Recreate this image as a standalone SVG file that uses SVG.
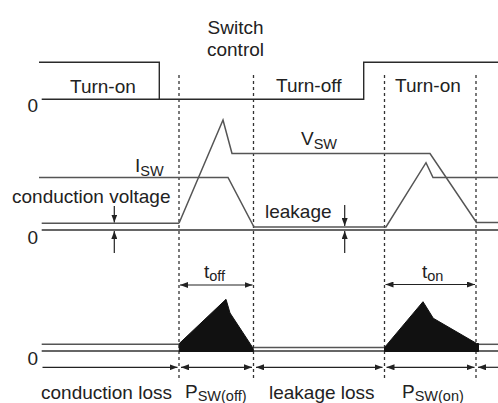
<svg xmlns="http://www.w3.org/2000/svg" width="498" height="403" viewBox="0 0 498 403">
<defs>
<style>
text{font-family:"Liberation Sans",Arial,Helvetica,sans-serif;font-size:19px;fill:#222}
.sub{font-size:14.5px}
.sw{fill:none;stroke:#2a2a2a;stroke-width:1.4}
.wave{fill:none;stroke:#555;stroke-width:1.5}
.base{fill:none;stroke:#333;stroke-width:1.4}
.dot{fill:none;stroke:#333;stroke-width:1.3;stroke-dasharray:3 3}
.arr{fill:none;stroke:#222;stroke-width:1.2}
.pw{fill:#111;stroke:#111;stroke-width:1}
</style>
<marker id="ah" viewBox="0 0 8 6" refX="8" refY="3" markerWidth="8" markerHeight="6" markerUnits="userSpaceOnUse" orient="auto-start-reverse">
<path d="M0,0 L8,3 L0,6 z" fill="#222"/>
</marker>
</defs>
<rect width="498" height="403" fill="#fff"/>

<g id="guides">
<line class="dot" x1="179" y1="75" x2="179" y2="378"/>
<line class="dot" x1="253.5" y1="75" x2="253.5" y2="378"/>
<line class="dot" x1="384.5" y1="75" x2="384.5" y2="378"/>
<line class="dot" x1="476" y1="75" x2="476" y2="378"/>
</g>

<g id="switch-control">
<path class="sw" d="M39,62.3 H159.3 V99.3"/>
<path class="sw" d="M41.7,99.3 H363.7 V62.3 H498"/>
<text x="235.5" y="33.5" text-anchor="middle">Switch</text>
<text x="235.5" y="55.5" text-anchor="middle">control</text>
<text x="70" y="92.5">Turn-on</text>
<text x="276" y="92">Turn-off</text>
<text x="395" y="92">Turn-on</text>
<text x="27.5" y="111.5">0</text>
</g>

<g id="waveforms">
<line class="base" x1="41.7" y1="230" x2="498" y2="230"/>
<path class="wave" d="M41.7,223.3 H179"/>
<path class="wave" d="M39,177.5 H228 L254,227 H386 L426,162.7 L433,177.5 H498"/>
<path class="wave" d="M179,223.3 L223,120 L232,153.5 H430 L476.5,222.5 H498"/>
<text x="27.5" y="243.5">0</text>
<text x="135" y="172">I<tspan class="sub" dy="3.5">SW</tspan></text>
<text x="301" y="145">V<tspan class="sub" dy="4">SW</tspan></text>
<text x="12" y="202.5">conduction voltage</text>
<text x="265" y="217.5">leakage</text>
</g>

<g id="connectors">
<line class="arr" x1="114.3" y1="206" x2="114.3" y2="222.5" marker-end="url(#ah)"/>
<line class="arr" x1="114.3" y1="253" x2="114.3" y2="231" marker-end="url(#ah)"/>
<line class="arr" x1="344.7" y1="205" x2="344.7" y2="226" marker-end="url(#ah)"/>
<line class="arr" x1="344.7" y1="253" x2="344.7" y2="231" marker-end="url(#ah)"/>
<line class="arr" x1="180" y1="285" x2="252.5" y2="285" marker-start="url(#ah)" marker-end="url(#ah)"/>
<line class="arr" x1="385.5" y1="284.5" x2="475" y2="284.5" marker-start="url(#ah)" marker-end="url(#ah)"/>
<line class="arr" x1="42.5" y1="367.3" x2="177.5" y2="367.3" marker-end="url(#ah)"/>
<line class="arr" x1="181" y1="367.3" x2="252" y2="367.3" marker-start="url(#ah)" marker-end="url(#ah)"/>
<line class="arr" x1="256" y1="367.3" x2="382.5" y2="367.3" marker-start="url(#ah)" marker-end="url(#ah)"/>
<line class="arr" x1="386.5" y1="367.3" x2="474.5" y2="367.3" marker-start="url(#ah)" marker-end="url(#ah)"/>
<line class="arr" x1="498" y1="367.3" x2="478" y2="367.3" marker-end="url(#ah)"/>
</g>

<g id="power">
<line class="base" x1="41.7" y1="351" x2="498" y2="351"/>
<path class="wave" d="M41.7,344.3 H179"/>
<path class="wave" d="M254,347.5 H384"/>
<path class="wave" d="M478,344.3 H498"/>
<path class="pw" d="M179.3,343.5 L226,299.3 L230,313 L253.3,348.5 L253.3,351.5 L179.3,351.5 z"/>
<path class="pw" d="M384.5,347.5 L423,301.7 L433.3,318.3 L476.7,343.5 L478.5,343.5 L478.5,351.5 L384.5,351.5 z"/>
<text x="27.5" y="365">0</text>
<text x="204" y="277.5">t<tspan class="sub" dy="3.5">off</tspan></text>
<text x="422" y="277.5">t<tspan class="sub" dy="3.5">on</tspan></text>
<text x="41" y="398.5">conduction loss</text>
<text x="185" y="398">P<tspan class="sub" dy="2.5">SW(off)</tspan></text>
<text x="269" y="398.5">leakage loss</text>
<text x="402" y="398">P<tspan class="sub" dy="2.5">SW(on)</tspan></text>
</g>
</svg>
